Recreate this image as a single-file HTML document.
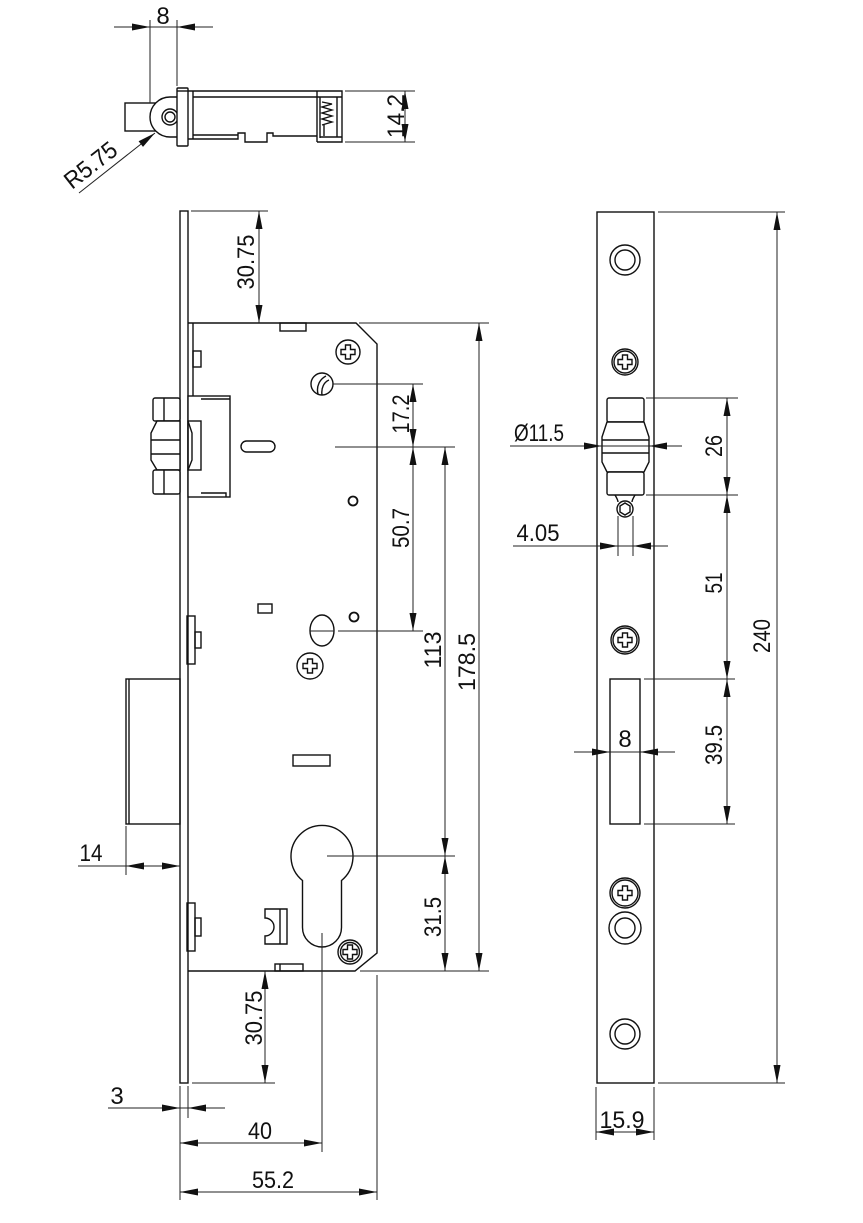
<!DOCTYPE html>
<html>
<head>
<meta charset="utf-8">
<style>
html,body{margin:0;padding:0;background:#fff;}
svg{display:block;}
text{font-family:"Liberation Sans","DejaVu Sans",sans-serif;font-size:24px;fill:#111;}
.o{fill:none;stroke:#111;stroke-width:1.4;}
.ow{fill:#fff;stroke:#111;stroke-width:1.4;}
.d{fill:none;stroke:#222;stroke-width:1;}
.a{fill:#111;stroke:none;}
</style>
</head>
<body>
<svg width="863" height="1223" viewBox="0 0 863 1223" xmlns="http://www.w3.org/2000/svg">

<!-- ================= TOP VIEW ================= -->
<rect class="o" x="125" y="103" width="30" height="28"/>
<path class="ow" d="M177,97 L170,97 A20,20 0 0 0 170,137 L177,137"/>
<circle class="o" cx="170" cy="117" r="8"/>
<circle class="o" cx="170" cy="117" r="5"/>
<rect class="ow" x="177" y="88" width="11" height="58" rx="1"/>
<line class="o" x1="177" y1="91" x2="188" y2="91"/>
<path class="o" d="M188,91 H342 V142 H317"/>
<line class="o" x1="193" y1="91" x2="193" y2="139"/>
<line class="o" x1="193" y1="97" x2="317" y2="97"/>
<path class="o" d="M188,139 H238 V133 H245 V142 H267 V133 H273 V136 H317"/>
<line class="o" x1="193" y1="135" x2="238" y2="135"/>
<line class="o" x1="317" y1="91" x2="317" y2="142"/>
<line class="o" x1="320" y1="97" x2="320" y2="138"/>
<line class="o" x1="337" y1="97" x2="337" y2="137"/>
<line class="o" x1="317" y1="97" x2="342" y2="97"/>
<line class="o" x1="320" y1="137" x2="342" y2="137"/>
<polyline class="o" points="322,102 332,104 322,107 332,110 322,113 332,116 322,119 332,122 322,125"/>
<line class="o" x1="324" y1="125" x2="324" y2="136"/>
<!-- dim 8 -->
<line class="d" x1="150" y1="20" x2="150" y2="103"/>
<line class="d" x1="177" y1="20" x2="177" y2="86"/>
<line class="d" x1="114" y1="27" x2="213" y2="27"/>
<polygon class="a" points="150,27 132,23.5 132,30.5"/>
<polygon class="a" points="177,27 195,23.5 195,30.5"/>
<text x="163" y="24" text-anchor="middle">8</text>
<!-- dim 14.2 -->
<line class="d" x1="345" y1="91" x2="415" y2="91"/>
<line class="d" x1="345" y1="142" x2="415" y2="142"/>
<line class="d" x1="405" y1="91" x2="405" y2="142"/>
<polygon class="a" points="405,91 401.5,109 408.5,109"/>
<polygon class="a" points="405,142 401.5,124 408.5,124"/>
<text transform="translate(404,116) rotate(-90)" text-anchor="middle" textLength="44" lengthAdjust="spacingAndGlyphs">14.2</text>
<!-- R5.75 -->
<line class="d" x1="79" y1="193" x2="155" y2="133"/>
<polygon class="a" points="155,133 143,146.9 138.6,141.3"/>
<text transform="translate(72,190) rotate(-38)" textLength="60" lengthAdjust="spacingAndGlyphs">R5.75</text>

<!-- ================= LEFT VIEW ================= -->
<rect class="o" x="180" y="211" width="8" height="872"/>
<path class="o" d="M188,323 H356 L377,344 V953 L355,971 H188"/>
<line class="o" x1="193" y1="323" x2="193" y2="396"/>
<rect class="o" x="280" y="323" width="26" height="8"/>
<rect class="o" x="193" y="351" width="8" height="16"/>
<rect class="ow" x="188" y="396" width="42" height="101"/>
<line class="o" x1="201" y1="399" x2="230" y2="399"/>
<path class="o" d="M201,493 H226 V497"/>
<rect class="ow" x="153" y="398" width="27" height="23" rx="2"/>
<line class="o" x1="164" y1="398" x2="164" y2="421"/>
<polygon class="ow" points="157,421 180,421 180,470 157,470 151,460 151,433"/>
<line class="o" x1="151" y1="440" x2="180" y2="440"/>
<line class="o" x1="151" y1="454" x2="180" y2="454"/>
<rect class="ow" x="153" y="470" width="27" height="24" rx="2"/>
<line class="o" x1="164" y1="470" x2="164" y2="494"/>
<rect class="o" x="188" y="421" width="13" height="49"/>
<polyline class="o" points="188,421 192,433 192,460 188,470"/>
<circle class="o" cx="348" cy="352" r="12"/>
<polygon class="o" points="345.5,345 350.5,345 350.5,349.5 355,349.5 355,354.5 350.5,354.5 350.5,359 345.5,359 345.5,354.5 341,354.5 341,349.5 345.5,349.5"/>
<circle class="o" cx="322" cy="384" r="11"/>
<path class="o" d="M318,394 C316,386 320,379 326,376"/>
<path class="o" d="M322,395 C321,388 324,382 329,380"/>
<rect class="o" x="241" y="441" width="34" height="11" rx="5.5"/>
<circle class="o" cx="353" cy="501" r="4.5" style="stroke-width:1.8"/>
<rect class="o" x="258" y="604" width="14" height="9"/>
<circle class="o" cx="354" cy="617" r="4.5" style="stroke-width:1.8"/>
<ellipse class="o" cx="322" cy="630.5" rx="12" ry="15.5"/>
<line class="d" x1="310" y1="631" x2="334" y2="631"/>
<circle class="o" cx="310" cy="666" r="13"/>
<polygon class="o" points="307.5,659 312.5,659 312.5,663.5 317,663.5 317,668.5 312.5,668.5 312.5,673 307.5,673 307.5,668.5 303,668.5 303,663.5 307.5,663.5"/>
<rect class="o" x="293" y="755" width="37" height="11"/>
<rect class="o" x="187" y="616" width="8" height="48"/>
<rect class="o" x="195" y="632" width="6" height="16"/>
<rect class="o" x="187" y="903" width="8" height="48"/>
<rect class="o" x="195" y="918" width="6" height="18"/>
<rect class="o" x="126" y="679" width="54" height="145"/>
<line class="o" x1="129" y1="679" x2="129" y2="824"/>
<path class="o" d="M302.5,880.5 A31,31 0 1 1 341.5,880.5 V927.5 A19.5,19.5 0 0 1 302.5,927.5 Z"/>
<path class="o" d="M265,909 H287 V944 H265 V936 A9,9 0 0 0 265,918 Z"/>
<line class="o" x1="280" y1="909" x2="280" y2="944"/>
<circle class="o" cx="350" cy="952" r="12"/>
<circle class="o" cx="350" cy="952" r="9.5"/>
<polygon class="o" points="347.5,945 352.5,945 352.5,949.5 357,949.5 357,954.5 352.5,954.5 352.5,959 347.5,959 347.5,954.5 343,954.5 343,949.5 347.5,949.5"/>
<rect class="o" x="275" y="964" width="28" height="7"/>
<line class="o" x1="280" y1="964" x2="280" y2="971"/>

<!-- left view dims -->
<line class="d" x1="191" y1="211" x2="268" y2="211"/>
<line class="d" x1="259" y1="211" x2="259" y2="323"/>
<polygon class="a" points="259,211 255.5,229 262.5,229"/>
<polygon class="a" points="259,323 255.5,305 262.5,305"/>
<text transform="translate(254,262) rotate(-90)" text-anchor="middle" textLength="55" lengthAdjust="spacingAndGlyphs">30.75</text>

<line class="d" x1="333" y1="384" x2="423" y2="384"/>
<line class="d" x1="335" y1="447" x2="455" y2="447"/>
<line class="d" x1="338" y1="631" x2="423" y2="631"/>
<line class="d" x1="327" y1="856" x2="455" y2="856"/>
<line class="d" x1="359" y1="323" x2="489" y2="323"/>
<line class="d" x1="360" y1="971" x2="489" y2="971"/>

<line class="d" x1="413" y1="384" x2="413" y2="631"/>
<polygon class="a" points="413,384 409.5,402 416.5,402"/>
<polygon class="a" points="413,447 409.5,429 416.5,429"/>
<polygon class="a" points="413,447 409.5,465 416.5,465"/>
<polygon class="a" points="413,631 409.5,613 416.5,613"/>
<text transform="translate(409,414) rotate(-90)" text-anchor="middle" textLength="39" lengthAdjust="spacingAndGlyphs">17.2</text>
<text transform="translate(409,528) rotate(-90)" text-anchor="middle" textLength="40" lengthAdjust="spacingAndGlyphs">50.7</text>

<line class="d" x1="445" y1="447" x2="445" y2="971"/>
<polygon class="a" points="445,447 441.5,465 448.5,465"/>
<polygon class="a" points="445,856 441.5,838 448.5,838"/>
<polygon class="a" points="445,856 441.5,874 448.5,874"/>
<polygon class="a" points="445,971 441.5,953 448.5,953"/>
<text transform="translate(441,650) rotate(-90)" text-anchor="middle" textLength="37" lengthAdjust="spacingAndGlyphs">113</text>
<text transform="translate(441,917) rotate(-90)" text-anchor="middle" textLength="40" lengthAdjust="spacingAndGlyphs">31.5</text>

<line class="d" x1="479" y1="323" x2="479" y2="971"/>
<polygon class="a" points="479,323 475.5,341 482.5,341"/>
<polygon class="a" points="479,971 475.5,953 482.5,953"/>
<text transform="translate(475,662) rotate(-90)" text-anchor="middle" textLength="58" lengthAdjust="spacingAndGlyphs">178.5</text>

<line class="d" x1="192" y1="1083" x2="275" y2="1083"/>
<line class="d" x1="265" y1="971" x2="265" y2="1083"/>
<polygon class="a" points="265,971 261.5,989 268.5,989"/>
<polygon class="a" points="265,1083 261.5,1065 268.5,1065"/>
<text transform="translate(262,1018) rotate(-90)" text-anchor="middle" textLength="55" lengthAdjust="spacingAndGlyphs">30.75</text>

<!-- 14 -->
<line class="d" x1="126" y1="826" x2="126" y2="875"/>
<line class="d" x1="78" y1="866" x2="180" y2="866"/>
<polygon class="a" points="126,866 144,862.5 144,869.5"/>
<polygon class="a" points="180,866 162,862.5 162,869.5"/>
<text x="91" y="861" text-anchor="middle" textLength="23" lengthAdjust="spacingAndGlyphs">14</text>

<!-- 3 / 40 / 55.2 -->
<line class="d" x1="180" y1="1086" x2="180" y2="1200"/>
<line class="d" x1="188" y1="1086" x2="188" y2="1118"/>
<line class="d" x1="322" y1="933" x2="322" y2="1152"/>
<line class="d" x1="377" y1="975" x2="377" y2="1200"/>
<line class="d" x1="108" y1="1108" x2="225" y2="1108"/>
<polygon class="a" points="180,1108 162,1104.5 162,1111.5"/>
<polygon class="a" points="188,1108 206,1104.5 206,1111.5"/>
<text x="117" y="1104" text-anchor="middle">3</text>
<line class="d" x1="180" y1="1143" x2="322" y2="1143"/>
<polygon class="a" points="180,1143 198,1139.5 198,1146.5"/>
<polygon class="a" points="322,1143 304,1139.5 304,1146.5"/>
<text x="260" y="1139" text-anchor="middle" textLength="24" lengthAdjust="spacingAndGlyphs">40</text>
<line class="d" x1="180" y1="1192" x2="377" y2="1192"/>
<polygon class="a" points="180,1192 198,1188.5 198,1195.5"/>
<polygon class="a" points="377,1192 359,1188.5 359,1195.5"/>
<text x="273" y="1188" text-anchor="middle" textLength="42" lengthAdjust="spacingAndGlyphs">55.2</text>

<!-- ================= RIGHT VIEW ================= -->
<rect class="o" x="597" y="212" width="57" height="871"/>
<circle class="o" cx="625" cy="260" r="15"/>
<circle class="o" cx="625" cy="260" r="10"/>
<circle class="o" cx="625" cy="362" r="13"/>
<circle class="o" cx="625" cy="362" r="11"/>
<polygon class="o" points="622.5,355 627.5,355 627.5,359.5 632,359.5 632,364.5 627.5,364.5 627.5,369 622.5,369 622.5,364.5 618,364.5 618,359.5 622.5,359.5"/>
<rect class="ow" x="607" y="398" width="37" height="24" rx="2"/>
<polygon class="ow" points="607,422 644,422 649,437 649,462 644,472 607,472 602,462 602,437"/>
<line class="o" x1="602" y1="440" x2="649" y2="440"/>
<line class="o" x1="602" y1="453" x2="649" y2="453"/>
<rect class="ow" x="607" y="472" width="37" height="23" rx="2"/>
<path class="o" d="M615,495 Q618,500 618,502 M635,495 Q632,500 632,502"/>
<circle class="o" cx="625" cy="509" r="8"/>
<polygon class="o" points="625,503 630,506 630,512 625,515 620,512 620,506"/>
<line class="d" x1="618" y1="516" x2="618" y2="556"/>
<line class="d" x1="633" y1="516" x2="633" y2="556"/>
<circle class="o" cx="625" cy="640" r="14"/>
<circle class="o" cx="625" cy="640" r="12"/>
<polygon class="o" points="622.5,633 627.5,633 627.5,637.5 632,637.5 632,642.5 627.5,642.5 627.5,647 622.5,647 622.5,642.5 618,642.5 618,637.5 622.5,637.5"/>
<rect class="o" x="610" y="679" width="30" height="145"/>
<circle class="o" cx="625" cy="893" r="15"/>
<circle class="o" cx="625" cy="893" r="13"/>
<polygon class="o" points="622.5,886 627.5,886 627.5,890.5 632,890.5 632,895.5 627.5,895.5 627.5,900 622.5,900 622.5,895.5 618,895.5 618,890.5 622.5,890.5"/>
<circle class="o" cx="625" cy="928" r="16"/>
<circle class="o" cx="625" cy="928" r="10"/>
<circle class="o" cx="625" cy="1034" r="15"/>
<circle class="o" cx="625" cy="1034" r="10"/>

<!-- Ø11.5 -->
<line class="d" x1="510" y1="446" x2="682" y2="446"/>
<polygon class="a" points="602,446 584,442.5 584,449.5"/>
<polygon class="a" points="649,446 667,442.5 667,449.5"/>
<text x="539" y="441" text-anchor="middle" textLength="50" lengthAdjust="spacingAndGlyphs">Ø11.5</text>
<!-- 4.05 -->
<line class="d" x1="513" y1="546" x2="668" y2="546"/>
<polygon class="a" points="618,546 600,542.5 600,549.5"/>
<polygon class="a" points="633,546 651,542.5 651,549.5"/>
<text x="538" y="541" text-anchor="middle" textLength="43" lengthAdjust="spacingAndGlyphs">4.05</text>
<!-- 8 -->
<line class="d" x1="574" y1="752" x2="675" y2="752"/>
<polygon class="a" points="610,752 592,748.5 592,755.5"/>
<polygon class="a" points="640,752 658,748.5 658,755.5"/>
<text x="625" y="747" text-anchor="middle">8</text>

<!-- right dims -->
<line class="d" x1="646" y1="398" x2="738" y2="398"/>
<line class="d" x1="646" y1="495" x2="738" y2="495"/>
<line class="d" x1="644" y1="679" x2="735" y2="679"/>
<line class="d" x1="644" y1="824" x2="735" y2="824"/>
<line class="d" x1="727" y1="398" x2="727" y2="824"/>
<polygon class="a" points="727,398 723.5,416 730.5,416"/>
<polygon class="a" points="727,495 723.5,477 730.5,477"/>
<polygon class="a" points="727,495 723.5,513 730.5,513"/>
<polygon class="a" points="727,679 723.5,661 730.5,661"/>
<polygon class="a" points="727,679 723.5,697 730.5,697"/>
<polygon class="a" points="727,824 723.5,806 730.5,806"/>
<text transform="translate(722,446) rotate(-90)" text-anchor="middle" textLength="22" lengthAdjust="spacingAndGlyphs">26</text>
<text transform="translate(722,583) rotate(-90)" text-anchor="middle" textLength="21" lengthAdjust="spacingAndGlyphs">51</text>
<text transform="translate(722,745) rotate(-90)" text-anchor="middle" textLength="40" lengthAdjust="spacingAndGlyphs">39.5</text>

<line class="d" x1="658" y1="212" x2="785" y2="212"/>
<line class="d" x1="658" y1="1083" x2="785" y2="1083"/>
<line class="d" x1="777" y1="212" x2="777" y2="1083"/>
<polygon class="a" points="777,212 773.5,230 780.5,230"/>
<polygon class="a" points="777,1083 773.5,1065 780.5,1065"/>
<text transform="translate(770,636) rotate(-90)" text-anchor="middle" textLength="34" lengthAdjust="spacingAndGlyphs">240</text>

<!-- 15.9 -->
<line class="d" x1="596" y1="1087" x2="596" y2="1140"/>
<line class="d" x1="654" y1="1087" x2="654" y2="1140"/>
<line class="d" x1="596" y1="1132" x2="654" y2="1132"/>
<polygon class="a" points="596,1132 614,1128.5 614,1135.5"/>
<polygon class="a" points="654,1132 636,1128.5 636,1135.5"/>
<text x="622" y="1128" text-anchor="middle" textLength="45" lengthAdjust="spacingAndGlyphs">15.9</text>

</svg>
</body>
</html>
